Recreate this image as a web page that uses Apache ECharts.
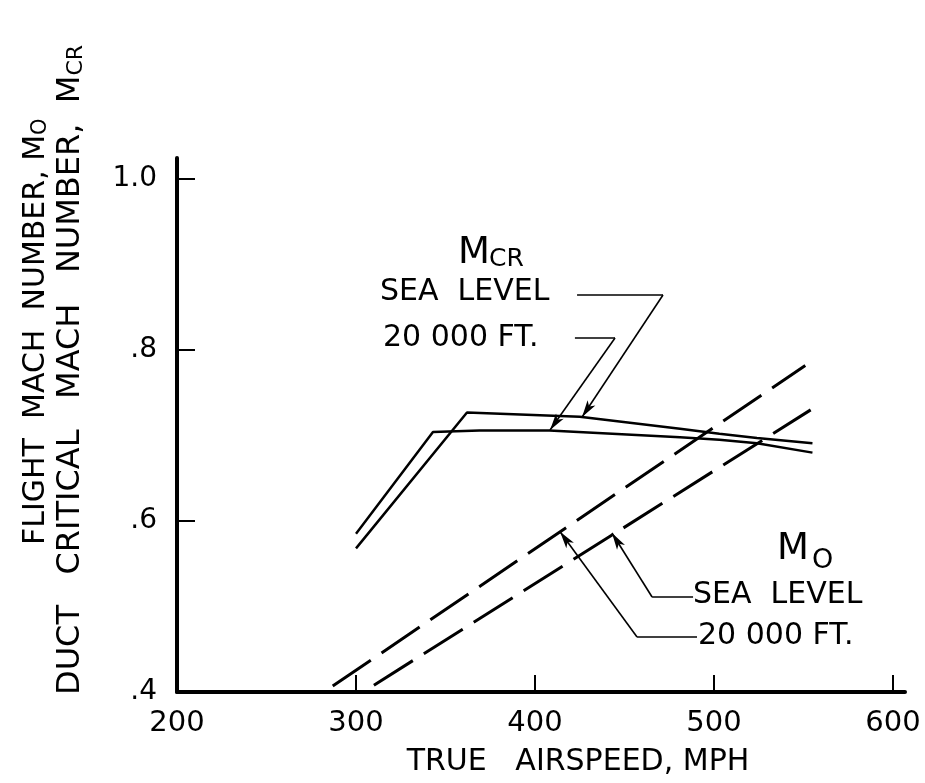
<!DOCTYPE html>
<html>
<head>
<meta charset="utf-8">
<script src="https://cdn.jsdelivr.net/npm/echarts@6/dist/echarts.min.js"></script>
<style>html,body{margin:0;padding:0;background:#fff}#c{width:925px;height:783px}</style>
</head>
<body>
<div id="c"></div>
<script>
// ---- data ----
const airspeedTicks = [200, 300, 400, 500, 600];
const machTicks = [0.4, 0.6, 0.8, 1.0];
// Duct critical Mach number (solid)
const mcrSeaLevel = [[300, 0.568], [362, 0.727], [425, 0.722], [481, 0.708], [503, 0.702], [524, 0.697], [555, 0.691]];
const mcr20000 = [[300, 0.585], [343, 0.704], [369, 0.706], [408, 0.706], [481, 0.698], [503, 0.695], [524, 0.691], [555, 0.680]];
// Flight Mach number (dashed)
const m0SeaLevel = [[310, 0.408], [554, 0.730]];
const m020000 = [[287, 0.407], [551, 0.782]];
// leader lines (data space): [elbow, arrow tip, horizontal end]
const leaderMcrSea = [[471.5, 0.8643], [426.3, 0.7216], [423.5, 0.8643]];
const leaderMcr20 = [[444.7, 0.814], [408.4, 0.7064], [422.3, 0.814]];
const leaderM0Sea = [[465.4, 0.5111], [443.0, 0.586], [488.3, 0.5111]];
const leaderM020 = [[457.0, 0.4643], [414.0, 0.5875], [490.5, 0.4643]];

const FONT = 'DejaVu Sans';
const chart = echarts.init(document.getElementById('c'), null, {renderer: 'canvas'});

function leader(p) {
  return [
    [{coord: p[2], symbol: 'none'}, {coord: p[0], symbol: 'none'}],
    [{coord: p[0], symbol: 'none'}, {coord: p[1], symbol: 'arrow', symbolSize: [7, 17]}]
  ];
}

function txt(x, y, text, size, extra) {
  return Object.assign({
    type: 'text', x: x, y: y, silent: true,
    style: {text: text, fontFamily: FONT, fontSize: size, fill: '#000',
      textAlign: 'left', align: 'left', textVerticalAlign: 'middle', verticalAlign: 'middle'}
  }, extra || {});
}
function vtxt(x, y, text, size) {
  return {
    type: 'text', x: x, y: y, rotation: Math.PI / 2, silent: true,
    style: {text: text, fontFamily: FONT, fontSize: size, fill: '#000', textAlign: 'left', align: 'left',
      textVerticalAlign: 'middle', verticalAlign: 'middle',
      rich: {s: {fontFamily: FONT, fontSize: Math.round(size * 0.7), verticalAlign: 'bottom', padding: [8, 0, 0, 0]}}}
  };
}

const option = {
  animation: false,
  backgroundColor: '#fff',
  grid: {left: 177, right: 20, top: 158, bottom: 91, containLabel: false},
  xAxis: {
    type: 'value', min: 200, max: 606.7,
    axisLine: {show: true, onZero: false, lineStyle: {color: '#000', width: 4}},
    axisTick: {show: true, inside: true, length: 17, customValues: airspeedTicks, lineStyle: {color: '#000', width: 2}},
    axisLabel: {show: true, customValues: airspeedTicks, margin: 17, color: '#000', fontFamily: FONT, fontSize: 29},
    splitLine: {show: false},
    name: 'TRUE   AIRSPEED, MPH', nameLocation: 'middle', nameGap: 55,
    nameTextStyle: {color: '#000', fontFamily: FONT, fontSize: 30, padding: [0, 0, 0, 74]}
  },
  yAxis: {
    type: 'value', min: 0.4, max: 1.0246,
    axisLine: {show: true, onZero: false, lineStyle: {color: '#000', width: 4}},
    axisTick: {show: true, inside: true, length: 18, customValues: machTicks, lineStyle: {color: '#000', width: 2}},
    axisLabel: {show: true, customValues: machTicks, margin: 20, color: '#000', fontFamily: FONT, fontSize: 28,
      formatter: function (v) { return Math.abs(v - 1) < 1e-9 ? '1.0' : v.toFixed(1).replace(/^0/, ''); }},
    splitLine: {show: false}
  },
  series: [
    {name: 'M_CR sea level', type: 'line', data: mcrSeaLevel, showSymbol: false, symbol: 'none',
      lineStyle: {color: '#000', width: 2.5}, silent: true,
      markLine: {silent: true, symbol: 'none', label: {show: false}, emphasis: {disabled: true},
        lineStyle: {color: '#000', width: 1.6, type: 'solid'},
        data: [].concat(leader(leaderMcrSea), leader(leaderMcr20), leader(leaderM0Sea), leader(leaderM020))}},
    {name: 'M_CR 20000 ft', type: 'line', data: mcr20000, showSymbol: false, symbol: 'none',
      lineStyle: {color: '#000', width: 2.5}, silent: true},
    {name: 'M0 sea level', type: 'line', data: m0SeaLevel, showSymbol: false, symbol: 'none',
      lineStyle: {color: '#000', width: 3, type: [46, 13]}, silent: true},
    {name: 'M0 20000 ft', type: 'line', data: m020000, showSymbol: false, symbol: 'none',
      lineStyle: {color: '#000', width: 3, type: [46, 13]}, silent: true}
  ],
  graphic: [
    // y-axis titles
    vtxt(36, 545, 'FLIGHT  MACH  NUMBER, M{s|O}', 30),
    vtxt(71, 695, 'DUCT   CRITICAL   MACH   NUMBER,  M{s|CR}', 32),
    // M_CR legend
    txt(458, 253.5, 'M', 37),
    txt(489, 259, 'CR', 25),
    txt(380, 292, 'SEA  LEVEL', 30),
    txt(383, 338.5, '20 000 FT.', 30),
    // M_O legend
    txt(777, 549, 'M', 37),
    txt(812, 561, 'O', 27),
    txt(693, 595, 'SEA  LEVEL', 30),
    txt(698, 636.5, '20 000 FT.', 30)
  ]
};
chart.setOption(option);
</script>
</body>
</html>
